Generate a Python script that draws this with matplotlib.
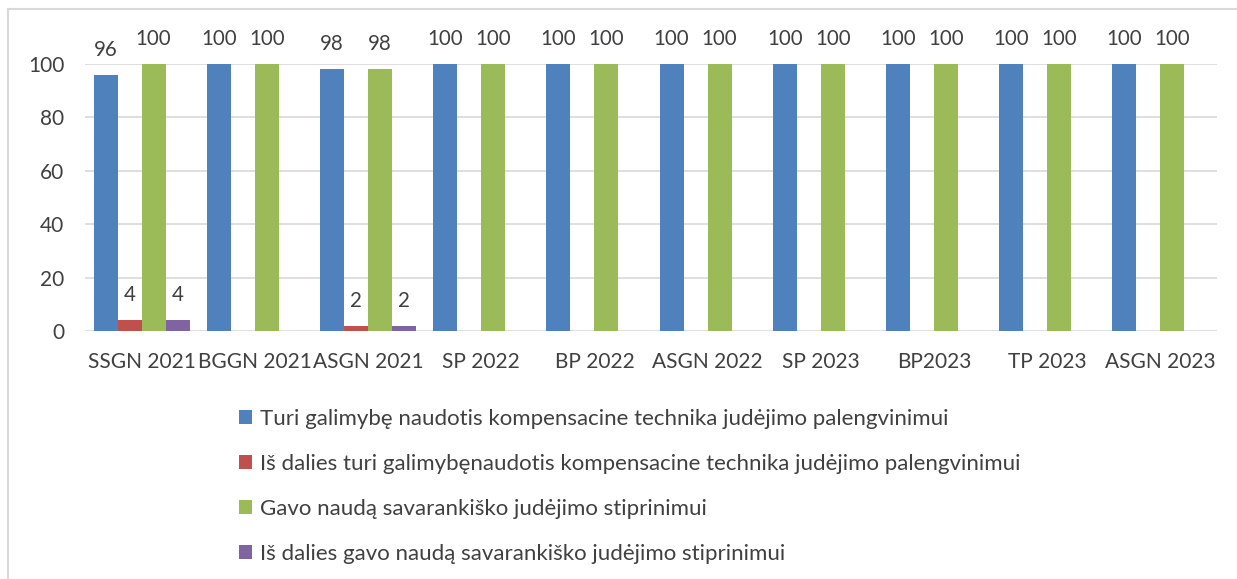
import matplotlib.pyplot as plt
import numpy as np
from matplotlib.lines import Line2D
from matplotlib.patches import Patch

categories = ["SSGN 2021", "BGGN 2021", "ASGN 2021", "SP 2022", "BP 2022",
              "ASGN 2022", "SP 2023", "BP2023", "TP 2023", "ASGN 2023"]
turi = [96, 100, 98, 100, 100, 100, 100, 100, 100, 100]
is_dalies_turi = [4, 0, 2, 0, 0, 0, 0, 0, 0, 0]
gavo = [100, 100, 98, 100, 100, 100, 100, 100, 100, 100]
is_dalies_gavo = [4, 0, 2, 0, 0, 0, 0, 0, 0, 0]
series_names = [
    "Turi galimybę naudotis kompensacine technika judėjimo palengvinimui",
    "Iš dalies turi galimybęnaudotis kompensacine technika judėjimo palengvinimui",
    "Gavo naudą savarankiško judėjimo stiprinimui",
    "Iš dalies gavo naudą savarankiško judėjimo stiprinimui",
]
yticks = [0, 20, 40, 60, 80, 100]

colors = ["#4F81BD", "#C0504D", "#9BBB59", "#8064A2"]
txt = "#404040"
plt.rcParams['font.family'] = ['Lato', 'DejaVu Sans']

fig = plt.figure(figsize=(12.37, 5.79), dpi=100)
ax = fig.add_axes([85/1237, 248/579, 1132/1237, 267/579])

x = np.arange(len(categories))
w = 0.212
all_series = [turi, is_dalies_turi, gavo, is_dalies_gavo]
for i, vals in enumerate(all_series):
    pos = x + (i - 1.5) * w
    ax.bar(pos, vals, width=w, color=colors[i], zorder=2)
    for px, v in zip(pos, vals):
        if v:
            ax.annotate(str(v), (px, v), xytext=(0, 18), textcoords='offset points',
                        ha='center', va='center', fontsize=14.8, color=txt,
                        annotation_clip=False)

ax.set_xlim(-0.5, len(categories) - 0.5)
ax.set_ylim(0, 100)
ax.set_yticks(yticks)
ax.yaxis.grid(True, color="#d9d9d9", linewidth=1.2, zorder=0)
ax.set_axisbelow(True)
for s in ax.spines.values():
    s.set_visible(False)
ax.set_xticks(x)
ax.set_xticklabels(categories)
ax.tick_params(axis='both', length=0, labelsize=15, labelcolor=txt)
ax.tick_params(axis='y', pad=15)
ax.tick_params(axis='x', pad=15)

handles = [Patch(facecolor=c) for c in colors]
fig.legend(handles, series_names, loc='upper left', bbox_to_anchor=(219/1237, 1 - 389/579),
           frameon=False, fontsize=16, labelcolor=txt, handlelength=0.6, handleheight=0.6,
           handletextpad=0.35, labelspacing=1.12)

fig.add_artist(Line2D([8/1237, 1], [1 - 9/579, 1 - 9/579], color="#d9d9d9", linewidth=1.5))
fig.add_artist(Line2D([8/1237, 8/1237], [0, 1 - 9/579], color="#d9d9d9", linewidth=1.5))

fig.savefig("out.png", dpi=100)
